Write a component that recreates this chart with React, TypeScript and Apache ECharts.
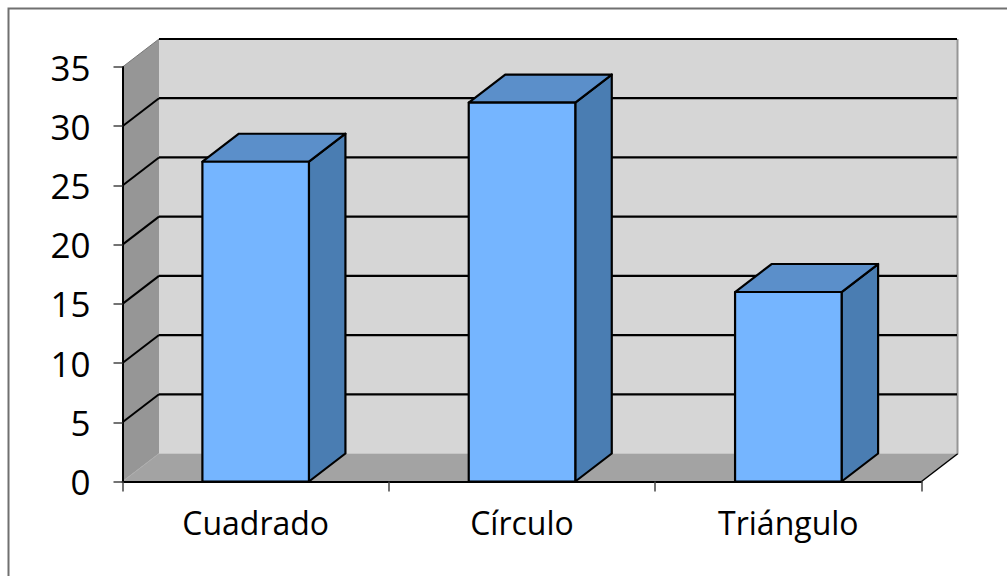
import React, { useEffect, useRef } from "react";
import * as echarts from "echarts";

const categories = ["Cuadrado", "Círculo", "Triángulo"];
const values = [27, 32, 16];
const wallTicks = [5, 10, 15, 20, 25, 30, 35];

const DX = 36.5;
const DY = -28;
const FONT = "Open Sans";

export default function App() {
  const ref = useRef<HTMLDivElement>(null);
  useEffect(() => {
    const chart = echarts.init(ref.current!, null, { renderer: "svg" });
    const shift = (p: number[]) => [p[0] + DX, p[1] + DY];
    chart.setOption({
      animation: false,
      backgroundColor: "#ffffff",
      graphic: [
        {
          type: "polyline",
          silent: true,
          z: -1,
          shape: { points: [[8.5, 576], [8.5, 8.5], [1007, 8.5]] },
          style: { stroke: "#707070", lineWidth: 2, fill: "none" },
        },
      ],
      grid: { left: 122.5, right: 85.5, top: 67, bottom: 94.5, containLabel: false },
      xAxis: {
        type: "category",
        data: categories,
        z: 10,
        axisLine: { show: true, lineStyle: { color: "#000", width: 2 } },
        axisTick: { show: true, length: 10, lineStyle: { color: "#444", width: 1.5 } },
        axisLabel: { color: "#000", fontFamily: FONT, fontSize: 32, margin: 25 },
        splitLine: { show: false },
      },
      yAxis: {
        type: "value",
        min: 0,
        max: 35,
        interval: 5,
        z: 10,
        axisLine: { show: true, lineStyle: { color: "#000", width: 2 } },
        axisTick: { show: true, length: 9, lineStyle: { color: "#444", width: 1.5 } },
        axisLabel: { color: "#000", fontFamily: FONT, fontSize: 35, margin: 32 },
        splitLine: { show: false },
      },
      series: [
        {
          type: "custom",
          z: 1,
          silent: true,
          data: [[0, 0]],
          renderItem: (params: any) => {
            const c = params.coordSys;
            const bl = [c.x, c.y + c.height];
            const tl = [c.x, c.y];
            const br = [c.x + c.width, c.y + c.height];
            const sbl = shift(bl);
            const stl = shift(tl);
            const sbr = shift(br);
            const str = [sbr[0], stl[1]];
            return {
              type: "group",
              children: [
                { type: "polygon", shape: { points: [sbl, stl, str, sbr] }, style: { fill: "#d6d6d6", stroke: "none" } },
                { type: "polygon", shape: { points: [bl, tl, stl, sbl] }, style: { fill: "#969696", stroke: "none" } },
                { type: "polygon", shape: { points: [bl, sbl, sbr, br] }, style: { fill: "#a3a3a3", stroke: "none" } },
                { type: "line", shape: { x1: bl[0], y1: bl[1], x2: sbl[0], y2: sbl[1] }, style: { stroke: "#adadad", lineWidth: 1 } },
                { type: "line", shape: { x1: tl[0], y1: tl[1], x2: stl[0], y2: stl[1] }, style: { stroke: "#777", lineWidth: 1 } },
                { type: "line", shape: { x1: br[0], y1: br[1], x2: sbr[0], y2: sbr[1] }, style: { stroke: "#000", lineWidth: 1.5 } },
                { type: "line", shape: { x1: str[0] - 0.5, y1: str[1], x2: sbr[0] - 0.5, y2: sbr[1] }, style: { stroke: "#969696", lineWidth: 2 } },
              ],
            };
          },
        },
        {
          type: "custom",
          z: 2,
          silent: true,
          data: wallTicks.map((v) => [0, v]),
          encode: { y: 1 },
          renderItem: (params: any, api: any) => {
            const c = params.coordSys;
            const p = api.coord([0, api.value(1)]);
            const a = [c.x, p[1]];
            const b = shift(a);
            const e = [c.x + c.width + DX - 1, b[1]];
            const top = api.value(1) === 35;
            return {
              type: "group",
              children: [
                { type: "line", shape: { x1: b[0], y1: b[1], x2: e[0], y2: e[1] }, style: { stroke: "#000", lineWidth: 2.2 } },
                ...(top
                  ? []
                  : [{ type: "line", shape: { x1: a[0], y1: a[1], x2: b[0], y2: b[1] }, style: { stroke: "#000", lineWidth: 2 } }]),
              ],
            };
          },
        },
        {
          type: "custom",
          z: 3,
          silent: true,
          data: values.map((v, i) => [i, v]),
          encode: { x: 0, y: 1 },
          renderItem: (_params: any, api: any) => {
            const top = api.coord([api.value(0), api.value(1)]);
            const base = api.coord([api.value(0), 0]);
            const w = api.size([1, 0])[0] * 0.4;
            const l = top[0] - w / 2;
            const r = top[0] + w / 2;
            const stroke = { stroke: "#000", lineWidth: 2.2, lineJoin: "round" };
            return {
              type: "group",
              children: [
                {
                  type: "polygon",
                  shape: { points: [[r, top[1]], [r + DX, top[1] + DY], [r + DX, base[1] + DY], [r, base[1]]] },
                  style: { fill: "#4a7db2", ...stroke },
                },
                {
                  type: "polygon",
                  shape: { points: [[l, top[1]], [l + DX, top[1] + DY], [r + DX, top[1] + DY], [r, top[1]]] },
                  style: { fill: "#5b8fca", ...stroke },
                },
                {
                  type: "rect",
                  shape: { x: l, y: top[1], width: w, height: base[1] - top[1] },
                  style: { fill: "#75b5ff", ...stroke },
                },
              ],
            };
          },
        },
      ],
    });
    return () => chart.dispose();
  }, []);
  return <div ref={ref} style={{ position: "absolute", left: 0, top: 0, width: 1007, height: 576 }} />;
}
